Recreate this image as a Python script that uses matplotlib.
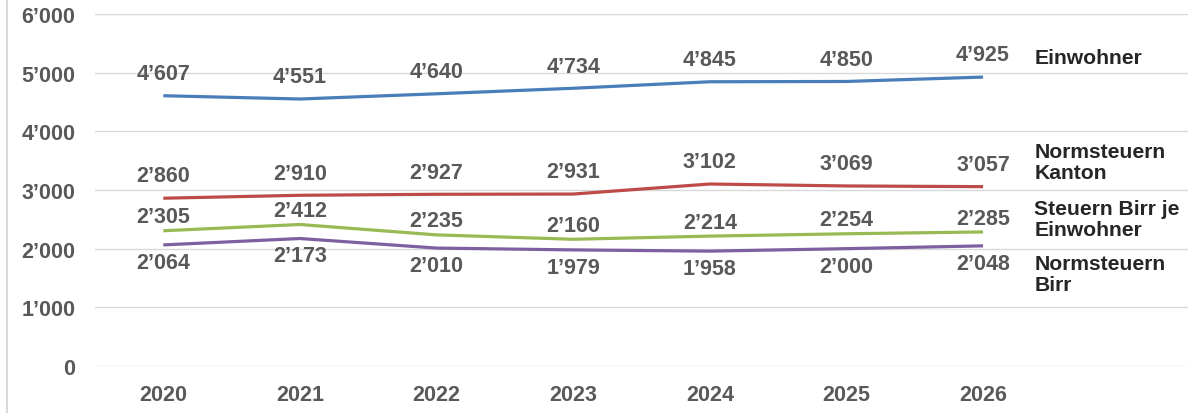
import matplotlib.pyplot as plt
from matplotlib.lines import Line2D
from matplotlib.ticker import FuncFormatter

years = ['2020', '2021', '2022', '2023', '2024', '2025', '2026']
einwohner = [4607, 4551, 4640, 4734, 4845, 4850, 4925]
kanton = [2860, 2910, 2927, 2931, 3102, 3069, 3057]
steuern_je_ew = [2305, 2412, 2235, 2160, 2214, 2254, 2285]
birr = [2064, 2173, 2010, 1979, 1958, 2000, 2048]

series_names = ['Einwohner', 'Normsteuern\nKanton', 'Steuern Birr je\nEinwohner', 'Normsteuern\nBirr']
colors = ['#4a7ebb', '#be4b48', '#98b954', '#7d60a0']

plt.rcParams['font.family'] = ['Liberation Sans', 'DejaVu Sans']

def fmt(v, pos=None):
  return '{:,}'.format(int(v)).replace(',', '\u2019')

fig = plt.figure(figsize=(11.88, 4.14), dpi=100)
ax = fig.add_axes([95/1188, 1 - 367/414, 1 - 95/1188, (367 - 15)/414])

x = range(len(years))
data = [einwohner, kanton, steuern_je_ew, birr]
# label offset (points) above/below the line
offsets = [16, 16, 10, -12.5]
name_offsets = [(37, 14), (37, 17.5), (37, 9.5), (37, -20.5)]

for vals, col, off, name, noff in zip(data, colors, offsets, series_names, name_offsets):
  ax.plot(x, vals, color=col, lw=2.3, solid_capstyle='butt')
  for xi, v in zip(x, vals):
    ax.annotate(fmt(v), xy=(xi, v), xytext=(0, off), textcoords='offset points',
                ha='center', va='center', fontsize=15.5, fontweight='bold', color='#595959')
  ax.annotate(name, xy=(x[-1], vals[-1]), xytext=noff, textcoords='offset points',
              ha='left', va='center', fontsize=15.2, fontweight='bold', color='#262626',
              linespacing=1.12)

ax.set_xlim(-0.5, 7.5)
ax.set_ylim(0, 6000)
ax.set_yticks(range(0, 7000, 1000))
ax.yaxis.set_major_formatter(FuncFormatter(fmt))
ax.set_xticks(list(x))
ax.set_xticklabels(years)
ax.grid(axis='y', color='#d9d9d9', lw=1)
ax.set_axisbelow(True)
for s in ax.spines.values():
  s.set_visible(False)
ax.tick_params(length=0, labelsize=15.5, labelcolor='#595959')
ax.tick_params(axis='y', pad=14)
ax.tick_params(axis='x', pad=13)
for lbl in ax.get_xticklabels() + ax.get_yticklabels():
  lbl.set_fontweight('bold')

fig.add_artist(Line2D([7/1188, 7/1188], [0, 1], color='#d9d9d9', lw=1.5, transform=fig.transFigure))

fig.savefig('out.png', dpi=100)
